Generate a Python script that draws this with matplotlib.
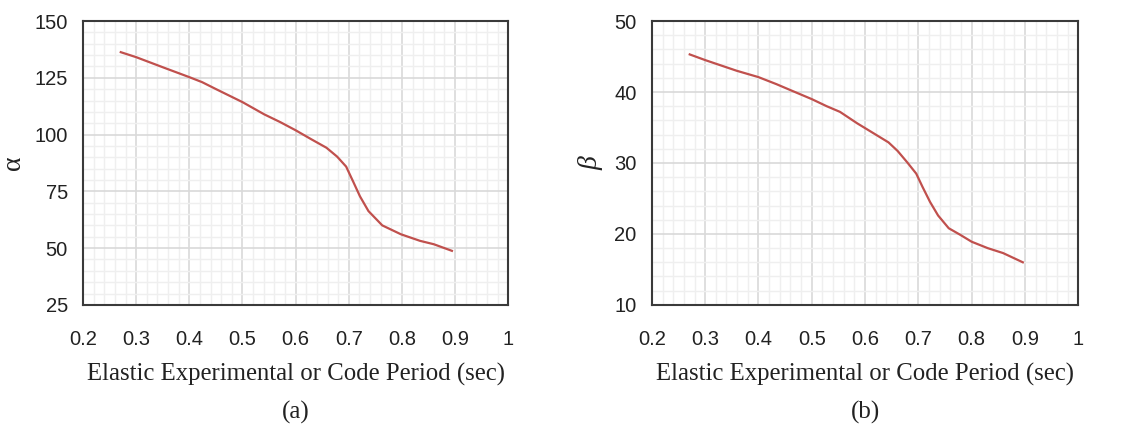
import matplotlib
matplotlib.use("Agg")
import matplotlib.pyplot as plt
from matplotlib.ticker import MultipleLocator

# Data
alpha_T = [0.271, 0.300, 0.353, 0.400, 0.424, 0.453, 0.500, 0.541, 0.571, 0.600, 0.629,
           0.658, 0.678, 0.695, 0.708, 0.721, 0.737, 0.763, 0.798, 0.834, 0.860, 0.894]
alpha_V = [136.3, 134.1, 129.4, 125.3, 123.1, 119.7, 114.3, 108.9, 105.5, 101.9, 98.0,
           94.2, 90.3, 85.9, 79.4, 72.8, 66.3, 60.0, 56.1, 53.2, 51.7, 48.8]

beta_T = [0.271, 0.300, 0.359, 0.400, 0.434, 0.459, 0.500, 0.528, 0.553, 0.585, 0.620,
          0.644, 0.661, 0.679, 0.696, 0.708, 0.722, 0.737, 0.757, 0.778, 0.800, 0.830,
          0.859, 0.896]
beta_V = [45.3, 44.5, 43.0, 42.1, 41.1, 40.3, 39.0, 38.0, 37.2, 35.6, 34.0,
          32.9, 31.7, 30.1, 28.5, 26.6, 24.5, 22.6, 20.8, 19.9, 18.9, 18.0,
          17.3, 16.0]

x_ticks = [0.2, 0.3, 0.4, 0.5, 0.6, 0.7, 0.8, 0.9, 1.0]
x_ticklabels = ["0.2", "0.3", "0.4", "0.5", "0.6", "0.7", "0.8", "0.9", "1"]
alpha_ticks = [25, 50, 75, 100, 125, 150]
beta_ticks = [10, 20, 30, 40, 50]
xlabel_text = "Elastic Experimental or Code Period (sec)"
panel_labels = ["(a)", "(b)"]

LINE = "#C0504D"
MAJ = "#d9d9d9"
MIN = "#efefef"
SPINE = "#3a3a3a"
TXT = "#222222"

fig = plt.figure(figsize=(11.22, 4.30), dpi=100)
ax1 = fig.add_axes([0.074, 0.291, 0.379, 0.660])
ax2 = fig.add_axes([0.581, 0.291, 0.380, 0.660])


def style(ax, yticks, yminor):
    ax.set_xlim(0.2, 1.0)
    ax.set_ylim(yticks[0], yticks[-1])
    ax.set_xticks(x_ticks)
    ax.set_xticklabels(x_ticklabels)
    ax.set_yticks(yticks)
    ax.xaxis.set_minor_locator(MultipleLocator(0.02))
    ax.yaxis.set_minor_locator(MultipleLocator(yminor))
    ax.grid(which="minor", color=MIN, linewidth=1.0, zorder=0)
    ax.grid(which="major", color=MAJ, linewidth=1.2, zorder=0)
    ax.set_axisbelow(True)
    for s in ax.spines.values():
        s.set_color(SPINE)
        s.set_linewidth(1.5)
    ax.tick_params(which="both", length=0)
    ax.tick_params(axis="y", pad=11)
    ax.tick_params(axis="x", pad=18)
    for lab in ax.get_xticklabels() + ax.get_yticklabels():
        lab.set_fontfamily("Liberation Sans")
        lab.set_fontsize(14.5)
        lab.set_color(TXT)
    ax.set_xlabel(xlabel_text, fontfamily="Liberation Serif", fontsize=17.8,
                  color=TXT, labelpad=10)


ax1.plot(alpha_T, alpha_V, color=LINE, linewidth=1.6, zorder=3)
style(ax1, alpha_ticks, 5)
ax1.set_ylabel("α", fontfamily="Liberation Serif", fontsize=20, color=TXT, labelpad=6)

ax2.plot(beta_T, beta_V, color=LINE, linewidth=1.6, zorder=3)
style(ax2, beta_ticks, 2)
ax2.set_ylabel("β", fontfamily="Liberation Serif", fontstyle="italic", fontsize=20,
               color=TXT, labelpad=8)

fig.text(0.074 + 0.379 / 2, 0.04, panel_labels[0], ha="center", va="center",
         fontfamily="Liberation Serif", fontsize=18, color=TXT)
fig.text(0.581 + 0.380 / 2, 0.04, panel_labels[1], ha="center", va="center",
         fontfamily="Liberation Serif", fontsize=18, color=TXT)

fig.savefig("out.png", dpi=100)
